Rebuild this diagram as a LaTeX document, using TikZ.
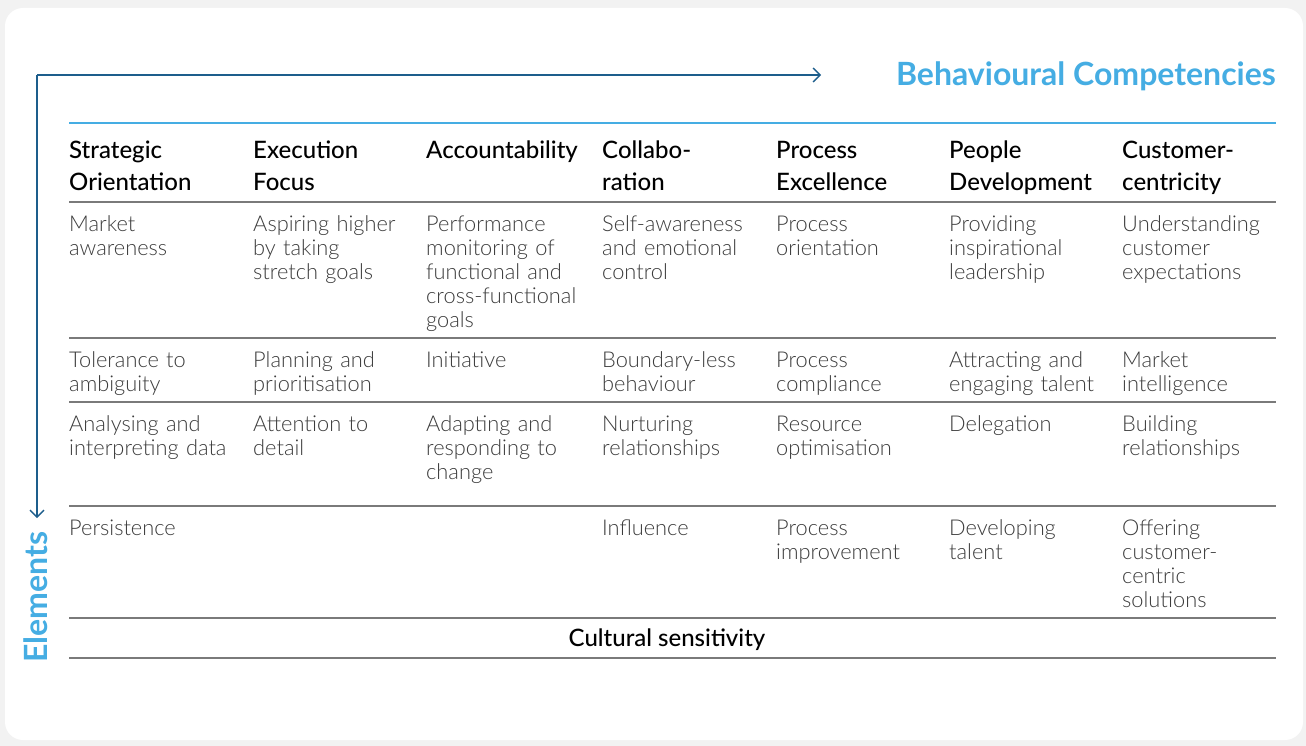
\documentclass[tikz,border=0pt]{standalone}
\usepackage{fontspec}
\setmainfont{Lato}
\newfontfamily\lightfont{Lato Light}
\newfontfamily\medfont{Lato Medium}
\usetikzlibrary{arrows.meta}

\definecolor{axisblue}{HTML}{1D5E8C}
\definecolor{titleblue}{HTML}{45ADE3}
\definecolor{rulegray}{HTML}{7A7A7A}
\definecolor{celltext}{HTML}{3C3C3C}
\definecolor{pagebg}{HTML}{F2F2F2}

\tikzset{
  hdr/.style={anchor=north west, inner sep=0pt, text width=172pt, align=left, text=black,
    font=\medfont\fontsize{24}{32}\selectfont, execute at begin node=\strut},
  cell/.style={anchor=north west, inner sep=0pt, text width=172pt, align=left, text=celltext,
    font=\lightfont\fontsize{21.8}{24}\selectfont, execute at begin node=\strut},
  axis/.style={axisblue, line width=1.3pt, -{Straight Barb[length=7pt, width=14pt]}},
  title/.style={inner sep=0pt, text=titleblue, font=\bfseries\fontsize{32}{38}\selectfont},
  rowline/.style={rulegray, line width=1.8pt},
}

\begin{document}
\begin{tikzpicture}[x=1pt, y=-1pt]
  \useasboundingbox (0,0) rectangle (1306,746);
  \fill[pagebg] (0,0) rectangle (1306,746);
  \fill[white, rounded corners=18pt] (5,8) rectangle (1303,740);

  % axes
  \coordinate (corner) at (37,75);
  \coordinate (xend) at (821,75);
  \coordinate (yend) at (37,518);
  \draw[axis] (corner) -- (xend);
  \draw[axis] (corner) -- (yend);
  \node[title, anchor=east] (comp) at (1276,76) {Behavioural Competencies};
  \node[title, rotate=90] (elem) at (36,597) {Elements};

  % rules
  \draw[titleblue, line width=2.6pt] (69,123) -- (1276,123);
  \draw[rowline] (69,202) -- (1276,202);
  \draw[rowline] (69,338) -- (1276,338);
  \draw[rowline] (69,402) -- (1276,402);
  \draw[rowline] (69,506) -- (1276,506);
  \draw[rowline] (69,618) -- (1276,618);
  \draw[rowline] (69,658) -- (1276,658);

  % headers
  \node[hdr] (h1) at (69,136.4) {Strategic\\Orientation};
  \node[hdr] (h2) at (253,136.4) {Execution\\Focus};
  \node[hdr] (h3) at (426,136.4) {Accountability};
  \node[hdr] (h4) at (602,136.4) {Collabo-\\ration};
  \node[hdr] (h5) at (776,136.4) {Process\\Excellence};
  \node[hdr] (h6) at (949,136.4) {People\\Development};
  \node[hdr] (h7) at (1122,136.4) {Customer-\\centricity};

  % row 1
  \node[cell] (a1) at (69,214.8) {Market\\awareness};
  \node[cell] (a2) at (253,214.8) {Aspiring higher\\by taking\\stretch goals};
  \node[cell] (a3) at (426,214.8) {Performance\\monitoring of\\functional and\\cross-functional\\goals};
  \node[cell] (a4) at (602,214.8) {Self-awareness\\and emotional\\control};
  \node[cell] (a5) at (776,214.8) {Process\\orientation};
  \node[cell] (a6) at (949,214.8) {Providing\\inspirational\\leadership};
  \node[cell] (a7) at (1122,214.8) {Understanding\\customer\\expectations};

  % row 2
  \node[cell] (b1) at (69,350.8) {Tolerance to\\ambiguity};
  \node[cell] (b2) at (253,350.8) {Planning and\\prioritisation};
  \node[cell] (b3) at (426,350.8) {Initiative};
  \node[cell] (b4) at (602,350.8) {Boundary-less\\behaviour};
  \node[cell] (b5) at (776,350.8) {Process\\compliance};
  \node[cell] (b6) at (949,350.8) {Attracting and\\engaging talent};
  \node[cell] (b7) at (1122,350.8) {Market\\intelligence};

  % row 3
  \node[cell] (c1) at (69,414.8) {Analysing and\\interpreting data};
  \node[cell] (c2) at (253,414.8) {Attention to\\detail};
  \node[cell] (c3) at (426,414.8) {Adapting and\\responding to\\change};
  \node[cell] (c4) at (602,414.8) {Nurturing\\relationships};
  \node[cell] (c5) at (776,414.8) {Resource\\optimisation};
  \node[cell] (c6) at (949,414.8) {Delegation};
  \node[cell] (c7) at (1122,414.8) {Building\\relationships};

  % row 4
  \node[cell] (d1) at (69,518.8) {Persistence};
  \node[cell] (d4) at (602,518.8) {Influence};
  \node[cell] (d5) at (776,518.8) {Process\\improvement};
  \node[cell] (d6) at (949,518.8) {Developing\\talent};
  \node[cell] (d7) at (1122,518.8) {Offering\\customer-\\centric\\solutions};

  \node[inner sep=0pt, text=black, font=\medfont\fontsize{24}{32}\selectfont] (all) at (667,640) {Cultural sensitivity};
\end{tikzpicture}
\end{document}
